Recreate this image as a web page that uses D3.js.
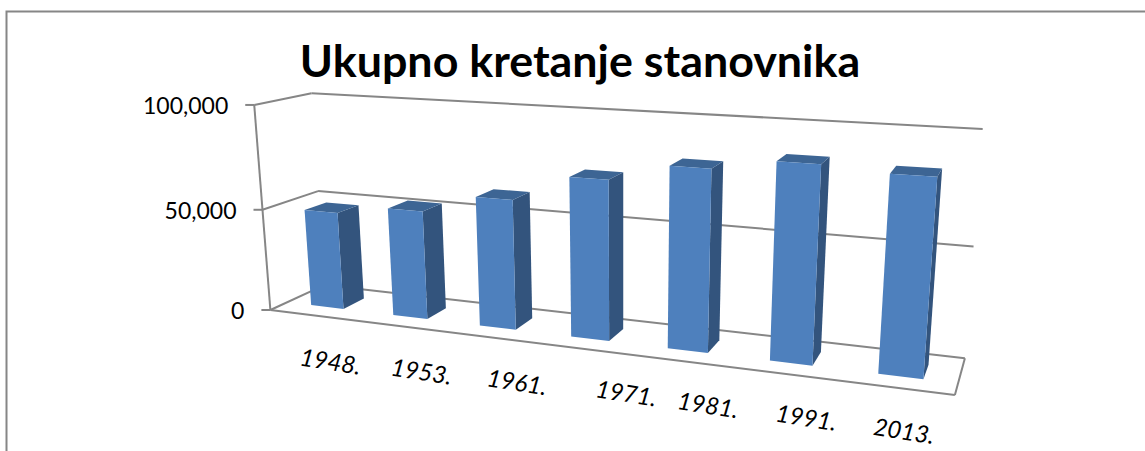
<!DOCTYPE html>
<html>
<head>
<meta charset="utf-8">
<script src="https://cdnjs.cloudflare.com/ajax/libs/d3/7.8.5/d3.min.js"></script>
<style>
  html, body { margin: 0; padding: 0; background: #fff; overflow: hidden; }
  text { font-family: Lato, "Open Sans", sans-serif; fill: #000; }
</style>
</head>
<body>
<div id="chart"></div>
<script>
"use strict";

var title = "Ukupno kretanje stanovnika";
var years = ["1948.", "1953.", "1961.", "1971.", "1981.", "1991.", "2013."];
var population = [48000, 52500, 61500, 74000, 82000, 87000, 85000];
var ticks = [0, 50000, 100000];

var width = 1145, height = 451;

// the chart box: u along the categories, v up, w into the picture, all 0..1.
// Screen anchors; the camera is fitted to them.
var anchors = [
  [0, 0, 0, 271, 309],
  [0, 1, 0, 254, 106],
  [0, 0.5, 0, 262, 209],
  [1, 0, 0, 955, 396],
  [0, 0, 1, 324, 287],
  [0, 1, 1, 312, 93],
  [0, 0.5, 1, 318, 190],
  [1, 0, 1, 965, 357],
  [1, 1, 1, 983, 129],
  [1, 0.5, 1, 973, 247]
];

// least squares for x = (a u + b v + c w + d) / (i u + j v + k w + 1), same for y
function fitCamera(pts) {
  var rows = [], rhs = [];
  pts.forEach(function(p) {
    var u = p[0], v = p[1], w = p[2], x = p[3], y = p[4];
    rows.push([u, v, w, 1, 0, 0, 0, 0, -x * u, -x * v, -x * w]); rhs.push(x);
    rows.push([0, 0, 0, 0, u, v, w, 1, -y * u, -y * v, -y * w]); rhs.push(y);
  });
  var n = 11, m = [];
  for (var i = 0; i < n; i++) {
    m[i] = [];
    for (var j = 0; j < n; j++) m[i][j] = d3.sum(rows, function(r) { return r[i] * r[j]; });
    m[i][n] = d3.sum(rows, function(r, k) { return r[i] * rhs[k]; });
  }
  for (var c = 0; c < n; c++) {
    var best = c;
    for (var r = c + 1; r < n; r++) if (Math.abs(m[r][c]) > Math.abs(m[best][c])) best = r;
    var t = m[c]; m[c] = m[best]; m[best] = t;
    for (r = 0; r < n; r++) {
      if (r === c) continue;
      var f = m[r][c] / m[c][c];
      for (j = c; j <= n; j++) m[r][j] -= f * m[c][j];
    }
  }
  return m.map(function(row, k) { return row[n] / row[k]; });
}
var cam = fitCamera(anchors);

function project(u, v, w) {
  var d = cam[8] * u + cam[9] * v + cam[10] * w + 1;
  return [(cam[0] * u + cam[1] * v + cam[2] * w + cam[3]) / d,
          (cam[4] * u + cam[5] * v + cam[6] * w + cam[7]) / d];
}

var uScale = d3.scaleBand().domain(years).range([0, 1]).paddingInner(0.6).paddingOuter(0.3);
var vScale = d3.scaleLinear().domain([0, 100000]).range([0, 1]);
var wScale = d3.scaleLinear().domain([0, 1]).range([0.3, 0.7]);

var svg = d3.select("#chart").append("svg")
  .attr("width", width)
  .attr("height", height)
  .style("display", "block");

// outer chart frame, only left and top are in the crop
svg.append("path")
  .attr("d", "M6.5," + height + "V11.5H" + width)
  .attr("fill", "none")
  .attr("stroke", "#868686")
  .attr("stroke-width", 2);

svg.append("text")
  .attr("x", 580)
  .attr("y", 77)
  .attr("text-anchor", "middle")
  .attr("font-size", 44.8)
  .attr("font-weight", 700)
  .text(title);

var line = d3.line();
var grid = svg.append("g")
  .attr("fill", "none")
  .attr("stroke", "#868686")
  .attr("stroke-width", 2);

function edge(a, b) {
  grid.append("path").attr("d", line([project.apply(null, a), project.apply(null, b)]));
}

ticks.forEach(function(t) {
  var v = vScale(t);
  edge([0, v, 0], [0, v, 1]);
  edge([0, v, 1], [1, v, 1]);
  var p = project(0, v, 0);
  grid.append("path").attr("d", line([[p[0] - 9, p[1]], p]));
  svg.append("text")
    .attr("x", p[0] - 26)
    .attr("y", p[1] + 9)
    .attr("text-anchor", "end")
    .attr("font-size", 23)
    .text(d3.format(",")(t));
});
edge([0, 0, 0], [0, 1, 0]);
edge([0, 0, 0], [1, 0, 0]);
edge([1, 0, 0], [1, 0, 1]);

// bars, drawn left to right as side, top, front
var bars = svg.append("g").selectAll("g")
  .data(years)
  .enter()
  .append("g");

function face(corners) {
  return line(corners.map(function(c) { return project(c[0], c[1], c[2]); })) + "Z";
}

bars.append("path")
  .attr("fill", "#33547d")
  .attr("d", function(d, i) {
    var x = uScale(d) + uScale.bandwidth(), top = vScale(population[i]);
    return face([[x, 0, wScale(0)], [x, 0, wScale(1)], [x, top, wScale(1)], [x, top, wScale(0)]]);
  });

bars.append("path")
  .attr("fill", "#3d6594")
  .attr("d", function(d, i) {
    var x0 = uScale(d), x1 = x0 + uScale.bandwidth(), top = vScale(population[i]);
    return face([[x0, top, wScale(0)], [x1, top, wScale(0)], [x1, top, wScale(1)], [x0, top, wScale(1)]]);
  });

bars.append("path")
  .attr("fill", "#4e80bd")
  .attr("d", function(d, i) {
    var x0 = uScale(d), x1 = x0 + uScale.bandwidth(), top = vScale(population[i]);
    return face([[x0, 0, wScale(0)], [x1, 0, wScale(0)], [x1, top, wScale(0)], [x0, top, wScale(0)]]);
  });

// category labels hang under the bars, tilted with the floor, not evenly spaced in the original
var labelNudge = [2, 10, 18, 35, 19, 14, 2];
svg.append("g").selectAll("text")
  .data(years)
  .enter()
  .append("text")
  .attr("font-size", 24)
  .attr("font-style", "italic")
  .attr("text-anchor", "middle")
  .attr("transform", function(d, i) {
    var p = project(uScale(d) + uScale.bandwidth() / 2, 0, wScale(0));
    return "translate(" + (p[0] + labelNudge[i]) + "," + (p[1] + 63) + ") rotate(9)";
  })
  .text(function(d) { return d; });
</script>
</body>
</html>
